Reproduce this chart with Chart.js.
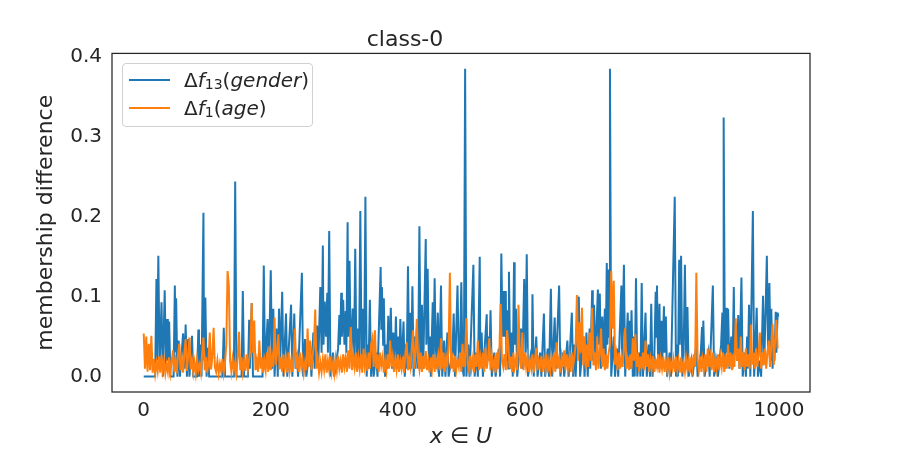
<!DOCTYPE html>
<html lang="en">
<head>
<meta charset="UTF-8">
<title>class-0</title>
<script src="https://cdn.jsdelivr.net/npm/chart.js"></script>
<style>
  body { margin: 0; background: #fff; font-family: 'DejaVu Sans', sans-serif; }
  #wrap { position: relative; width: 900px; height: 450px; }
  .legend {
    position: absolute; left: 122px; top: 63px; width: 189px; height: 62px;
    border: 1px solid #d0d0d0; border-radius: 4px; background: rgba(255,255,255,0.85);
  }
  .legend .row {
    position: absolute; left: 6px; height: 28px; display: flex; align-items: center;
    font-size: 20px; color: #262626; white-space: nowrap;
  }
  .legend .swatch { display: inline-block; width: 41px; height: 2px; margin-right: 14px; }
  .legend sub { font-size: 70%; position: relative; top: 2px; vertical-align: baseline; }
</style>
</head>
<body>
<div id="wrap">
  <canvas id="chart" width="900" height="450"></canvas>
  <div class="legend">
    <div class="row" style="top:2px"><span class="swatch" style="background:#1f77b4"></span><span>Δ<i>f</i><sub>13</sub>(<i>gender</i>)</span></div>
    <div class="row" style="top:30px"><span class="swatch" style="background:#ff7f0e"></span><span>Δ<i>f</i><sub>1</sub>(<i>age</i>)</span></div>
  </div>
</div>

<script>
  // blue series: Δf13(gender), sample index and value
  const genderIdx = [
    0,18,20,21,23,25,28,30,33,35,37,38,40,42,47,49,50,51,53,55,57,62,64,66,68,70,72,76,78,84,
    86,87,89,91,94,95,97,99,101,103,124,126,128,142,144,146,154,156,158,164,166,167,170,172,187,189,191,195,197,200,
    202,204,206,209,211,213,215,218,220,224,226,232,234,237,239,241,243,
    249,251,254,256,262,264,267,269,273,275,278,280,282,283,285,287,289,290,292,294,
    298,300,306,308,309,311,312,314,316,318,319,321,322,324,326,329,331,333,335,337,
    339,341,343,345,347,349,351,353,354,356,358,360,362,366,368,373,374,375,377,378,
    380,382,383,385,387,389,391,393,395,397,399,401,402,404,406,409,411,413,414,416,
    418,420,421,423,425,427,428,430,432,434,436,438,440,444,445,447,449,451,452,455,
    456,458,460,463,465,468,470,473,475,478,480,486,488,490,494,496,498,500,502,504,506,508,
    511,513,519,521,524,526,529,530,532,534,540,541,543,544,546,548,552,554,559,561,
    563,565,567,568,570,571,573,574,575,577,579,581,583,584,586,588,594,596,599,601,
    603,605,609,611,612,614,618,620,624,626,630,632,636,638,641,643,647,649,654,656,
    660,662,667,669,674,676,678,680,685,687,692,694,697,699,702,703,706,707,709,711,
    715,716,718,720,722,724,726,727,729,730,732,733,734,736,740,742,745,747,752,753,756,758,
    760,762,763,765,766,768,770,772,773,775,777,780,782,784,786,790,792,795,797,799,
    801,804,806,807,808,810,812,813,815,816,819,820,822,824,828,830,836,838,840,841,
    843,844,846,848,850,852,854,856,858,862,864,870,872,877,879,880,881,883,889,891,
    896,898,902,904,909,911,912,913,915,917,918,920,922,925,927,929,930,932,934,936,
    938,939,941,943,946,948,950,951,953,955,959,961,963,965,967,970,972,975,977,979,
    981,983,985,987,988,990,992,993,995,996,998,999
  ];
  const genderVal = [
    0,0,.122,.02,.151,.01,.093,0,.108,.01,.072,.02,.069,0,0,.114,.03,.098,0,.045,0,.054,.01,.065,0,.047,0,.051,0,0,
    .059,0,.04,0,.205,.02,.099,0,.036,0,0,.061,0,0,.244,0,0,.107,0,0,.071,.01,.092,0,0,.139,.01,.072,.01,.133,
    .01,.085,0,.06,0,.085,.02,.106,0,.079,0,.09,0,.079,.01,.03,0,
    .13,0,.047,0,.04,0,.055,.01,.064,.02,.112,.03,.164,.04,.094,.05,.105,.03,.182,0,
    .03,0,.035,.077,.04,.105,.05,.096,.04,.082,.03,.193,.05,.145,.02,.085,.02,.16,.01,.06,
    .02,.207,.01,.085,.02,.225,0,.04,.01,.096,0,.04,0,.03,0,.137,.06,.112,.04,.098,
    0,.04,.01,.076,.02,.086,.01,.055,.01,.075,.01,.05,.01,.072,.01,.069,0,.04,.01,.138,
    .01,.08,.01,.113,0,.05,.01,.06,.01,.188,.01,.09,.01,.172,.04,.135,.01,.05,0,.093,
    .02,.123,.01,.08,0,.114,0,.045,0,.055,0,.03,.079,0,.114,.02,.03,.118,.01,0,.385,0,
    .04,0,.14,0,.03,0,.15,.02,.055,0,.078,.02,.05,.02,.083,0,.03,0,.035,0,
    .154,.05,.107,.05,.107,.02,.083,.01,.131,.01,.055,0,.143,.04,.085,0,.06,.01,.122,.03,
    .153,0,.025,.01,.103,0,.05,0,.03,0,.079,0,.035,0,.11,0,.074,.01,.114,0,
    .03,0,.045,0,.08,0,.04,0,.1,0,.05,0,.055,0,.06,.01,.108,.02,.09,.02,
    .109,.04,.104,.01,.075,.02,.085,.01,.142,.04,.134,.05,.385,0,.05,0,.035,0,.114,.02,.14,0,
    .04,.08,.02,.07,.01,.083,0,.05,0,.123,0,.03,0,.117,0,.08,0,.04,0,.091,
    0,.03,.106,.05,.114,.01,.091,.02,.07,.01,.088,.03,.075,0,.03,0,.225,0,.04,0,
    .146,.04,.151,0,.03,.14,.02,.087,0,.02,0,.04,0,.03,.062,.02,.07,0,.03,0,
    .114,0,.02,0,.04,.08,.02,.324,.01,.086,.03,.085,.01,.05,.01,.112,.03,.065,.02,.077,
    .01,.05,.124,0,.03,0,.05,.01,.09,0,.207,0,.04,.086,0,.02,0,.101,.02,.08,
    .151,.03,.117,.02,.085,.01,.05,.02,.081,.03,.08,.075
  ];

  // orange series: Δf1(age), one sample every ageStep indices, values in thousandths
  const ageStep = 2;
  const ageMilli = [
    54,10,50,6,41,8,51,5,22,4,18,7,25,5,27,8,20,4,16,6,
    24,5,18,33,6,20,4,28,41,8,22,5,30,47,7,26,49,9,20,5,
    18,4,22,8,15,5,30,49,8,24,5,20,55,9,25,61,12,6,20,4,
    16,6,22,5,18,40,132,114,20,6,22,8,18,5,25,56,8,24,6,20,
    7,28,9,22,35,92,30,70,8,20,6,45,10,24,5,20,8,30,6,38,
    8,25,12,74,15,30,53,9,24,6,28,10,22,5,30,8,20,6,28,60,
    10,24,6,30,12,22,5,18,8,60,12,45,8,26,40,84,10,22,5,18,
    6,22,9,28,5,20,8,25,6,18,4,22,8,26,10,20,5,28,12,24,
    6,33,10,62,8,26,12,30,6,24,10,28,5,35,12,22,7,30,10,40,
    48,12,58,10,28,6,30,14,24,5,20,8,28,10,45,12,25,6,22,9,
    28,6,20,10,25,5,30,43,8,22,12,35,58,10,30,72,20,9,30,6,
    26,10,32,8,20,5,24,10,28,6,22,12,26,8,48,10,30,6,24,12,
    40,130,10,22,6,26,8,20,12,30,6,41,12,25,73,15,8,26,10,22,
    5,28,12,45,8,24,10,30,6,36,10,22,48,8,26,12,20,5,30,10,
    35,91,20,12,28,8,58,40,10,25,6,30,12,22,8,90,25,10,55,8,
    30,12,25,6,20,10,28,5,22,36,8,20,12,26,6,22,10,28,5,20,
    8,24,12,30,6,43,10,22,5,25,12,33,8,28,10,24,6,30,12,25,
    40,102,20,68,30,86,14,50,10,40,12,55,20,86,14,30,8,50,10,28,
    60,12,35,8,28,10,30,40,132,60,120,15,28,8,30,10,25,12,35,61,
    10,25,8,28,10,48,20,53,12,30,6,25,10,30,8,45,12,28,6,22,
    10,26,6,20,12,28,5,22,10,25,6,20,8,24,5,18,10,22,6,25,
    8,20,5,24,10,18,6,22,8,20,5,24,10,28,12,130,20,8,25,6,
    22,10,28,6,35,12,25,8,30,6,22,10,28,8,25,12,30,6,28,10,
    40,12,30,8,28,12,73,20,35,10,50,12,30,8,35,12,28,10,65,15,
    30,10,35,12,28,55,10,30,14,35,10,30,45,12,40,66,15,45,71,35
  ];

  const xTicks = [0, 200, 400, 600, 800, 1000];
  const yTicks = [0, 0.1, 0.2, 0.3, 0.4];

  const genderPoints = genderIdx.map((x, i) => ({ x: x, y: genderVal[i] }));
  const agePoints = ageMilli.map((v, i) => ({ x: i * ageStep, y: v / 1000 }));

  const ink = '#262626';
  Chart.defaults.font.family = "'DejaVu Sans', sans-serif";

  const framePlugin = {
    id: 'frame',
    afterDraw(chart) {
      const { ctx, chartArea: a } = chart;
      ctx.save();
      ctx.strokeStyle = ink;
      ctx.lineWidth = 1.25;
      ctx.strokeRect(a.left, a.top, a.right - a.left, a.bottom - a.top);
      ctx.restore();
    }
  };

  new Chart(document.getElementById('chart'), {
    type: 'line',
    data: {
      datasets: [
        { label: 'Δf13(gender)', data: genderPoints, borderColor: '#1f77b4', borderWidth: 2,
          pointRadius: 0, tension: 0, order: 2 },
        { label: 'Δf1(age)', data: agePoints, borderColor: '#ff7f0e', borderWidth: 2,
          pointRadius: 0, tension: 0, order: 1 }
      ]
    },
    options: {
      responsive: false,
      animation: false,
      layout: { padding: { left: 0, right: 90, top: 0, bottom: 0 } },
      plugins: {
        legend: { display: false },
        tooltip: { enabled: false },
        title: { display: true, text: 'class-0', color: ink, font: { size: 22, weight: 'normal' },
                 padding: { top: 27, bottom: 0 } }
      },
      scales: {
        x: {
          type: 'linear', min: -49.95, max: 1048.95,
          grid: { display: false, drawTicks: false }, border: { display: false },
          afterBuildTicks: s => { s.ticks = xTicks.map(v => ({ value: v })); },
          afterFit: s => { s.height = 58; },
          ticks: { color: ink, font: { size: 20 }, padding: 7, maxRotation: 0, autoSkip: false,
                   callback: v => String(v) },
          title: { display: true, text: 'x ∈ U', color: ink, font: { size: 22, style: 'italic' },
                   padding: { top: 0, bottom: 0 } }
        },
        y: {
          type: 'linear', min: -0.01925, max: 0.40425,
          grid: { display: false, drawTicks: false }, border: { display: false },
          afterBuildTicks: s => { s.ticks = yTicks.map(v => ({ value: v })); },
          afterFit: s => { s.width = 112; },
          ticks: { color: ink, font: { size: 20 }, padding: 10, callback: v => v.toFixed(1) },
          title: { display: true, text: 'membership difference', color: ink, font: { size: 22 },
                   padding: { top: 33, bottom: 0 } }
        }
      }
    },
    plugins: [framePlugin]
  });
</script>
</body>
</html>
